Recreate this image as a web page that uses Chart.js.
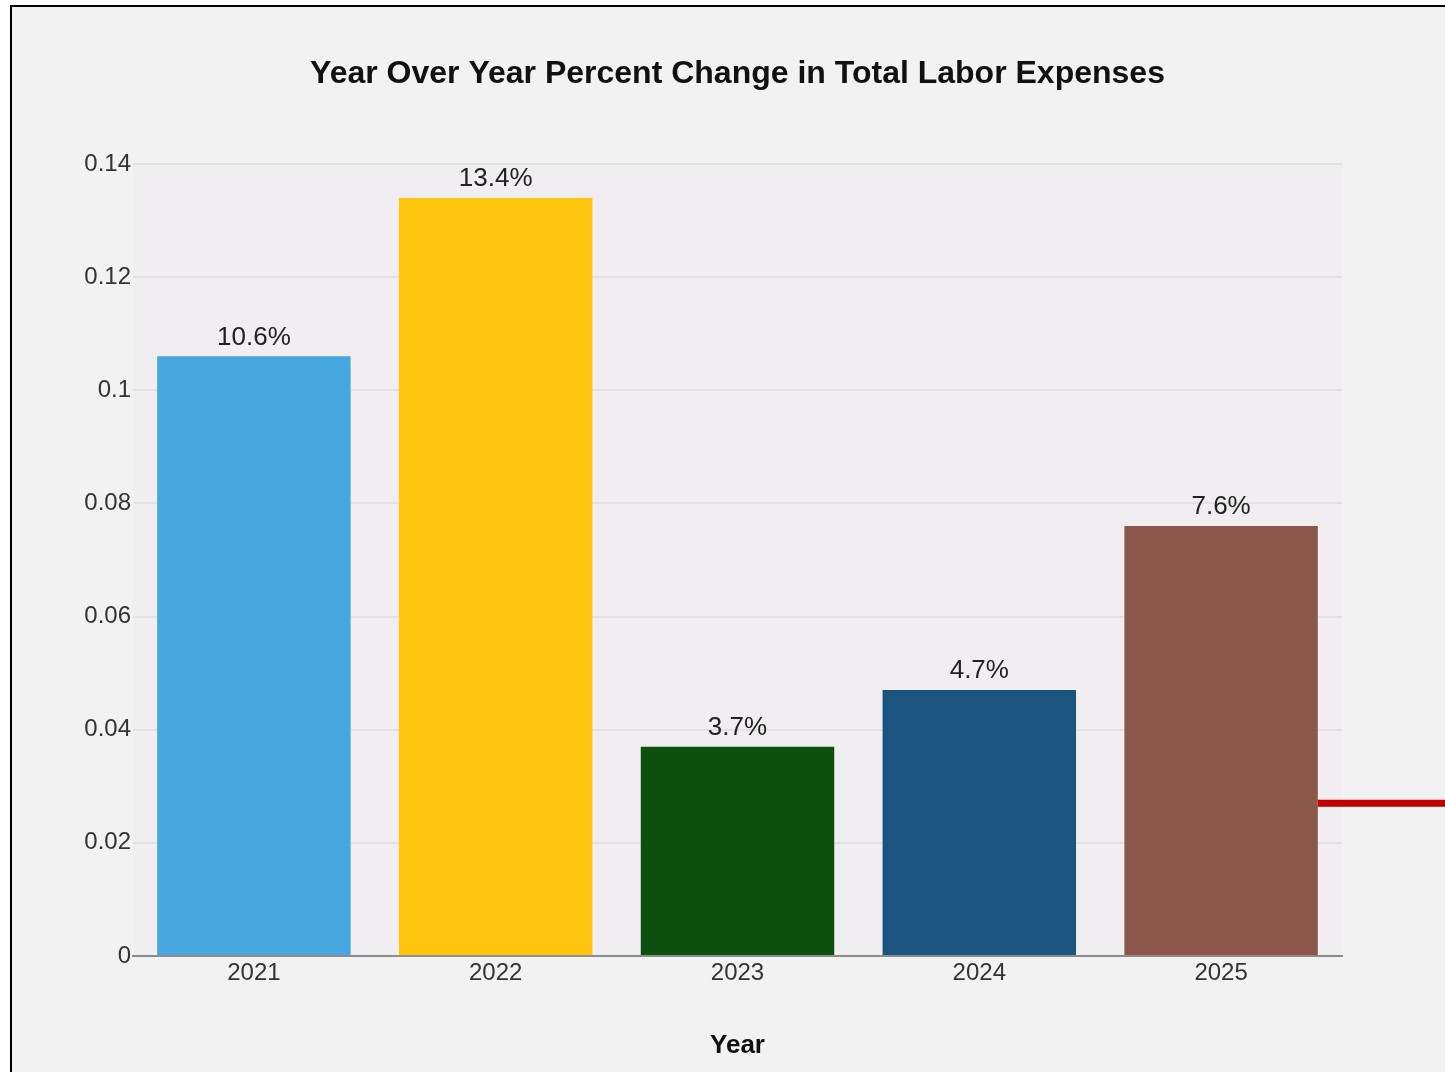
<!DOCTYPE html>
<html>
<head>
<meta charset="utf-8">
<script src="https://cdn.jsdelivr.net/npm/chart.js@4"></script>
<style>
    body{margin:0;background:#fff;overflow:hidden;}
    .frame{position:absolute;left:10px;top:5px;width:1435px;height:1067px;box-sizing:border-box;
        border-top:2px solid #000;border-left:2px solid #000;background:#f2f2f2;}
    .holder{position:relative;width:1433px;height:1065px;}
</style>
</head>
<body>
<div class="frame"><div class="holder"><canvas id="labor"></canvas></div></div>
<script>
    const years=["2021","2022","2023","2024","2025"];
    const pctChange=[0.106,0.134,0.037,0.047,0.076];
    const pctLabels=["10.6%","13.4%","3.7%","4.7%","7.6%"];
    const barColors=["#45a7de","#fec50f","#0d4f0f","#1b547f","#8b574b"];
    const yTicks=[0,0.02,0.04,0.06,0.08,0.1,0.12,0.14];
    const chartTitle="Year Over Year Percent Change in Total Labor Expenses";
    const markerValue=0.027; // red marker line on the right

    const font="'Liberation Sans', Arial, sans-serif";

    const plotBg={
        id:'plotBg',
        beforeDraw:(chart)=>{
            let {ctx,chartArea}=chart;
            ctx.save();
            ctx.fillStyle='#f0eef0';
            ctx.fillRect(chartArea.left,chartArea.top,chartArea.right-chartArea.left,chartArea.bottom-chartArea.top);
            ctx.restore();
        }
    };

    // title centred over the plot area, not the whole canvas
    const plotTitle={
        id:'plotTitle',
        afterDraw:(chart)=>{
            let {ctx,chartArea}=chart;
            ctx.save();
            ctx.font="bold 32px "+font;
            ctx.fillStyle='#111';
            ctx.textAlign='center';
            ctx.textBaseline='middle';
            ctx.fillText(chartTitle,(chartArea.left+chartArea.right)/2,chartArea.top-90);
            ctx.restore();
        }
    };

    const valueLabels={
        id:'valueLabels',
        afterDatasetsDraw:(chart)=>{
            let ctx=chart.ctx;
            let meta=chart.getDatasetMeta(0);
            ctx.save();
            ctx.font="26px "+font;
            ctx.fillStyle='#222';
            ctx.textAlign='center';
            ctx.textBaseline='bottom';
            meta.data.forEach((bar,i)=>{
                ctx.fillText(pctLabels[i],bar.x,bar.y-6);
            });
            // red marker from the last bar to the edge
            let last=meta.data[meta.data.length-1];
            let y=chart.scales.y.getPixelForValue(markerValue);
            ctx.fillStyle='#c00000';
            ctx.fillRect(last.x+last.width/2,y-3.5,chart.width-(last.x+last.width/2),7);
            ctx.restore();
        }
    };

    new Chart(document.getElementById('labor'),{
        type:'bar',
        data:{
            labels:years,
            datasets:[{
                data:pctChange,
                backgroundColor:barColors,
                barPercentage:0.8,
                categoryPercentage:1.0
            }]
        },
        options:{
            responsive:true,
            maintainAspectRatio:false,
            animation:false,
            layout:{padding:{left:0,right:103,top:157,bottom:0}},
            plugins:{
                legend:{display:false},
                tooltip:{enabled:false},
                title:{display:false}
            },
            scales:{
                x:{
                    grid:{display:false,drawTicks:false},
                    border:{display:true,color:'#8c8c8c',width:2},
                    ticks:{color:'#333',font:{family:font,size:24},padding:3},
                    title:{
                        display:true,
                        text:'Year',
                        color:'#111',
                        font:{family:font,size:26,weight:'bold'},
                        padding:{top:39,bottom:11}
                    }
                },
                y:{
                    min:0,
                    max:0.14,
                    afterBuildTicks:(scale)=>{scale.ticks=yTicks.map(v=>({value:v}));},
                    afterFit:(scale)=>{scale.width=121;},
                    grid:{color:'#e2e2e2',lineWidth:2,drawTicks:false},
                    border:{display:false},
                    ticks:{color:'#333',font:{family:font,size:24},padding:2,
                        callback:(v)=>String(Math.round(v*100)/100)}
                }
            }
        },
        plugins:[plotBg,plotTitle,valueLabels]
    });
</script>
</body>
</html>
